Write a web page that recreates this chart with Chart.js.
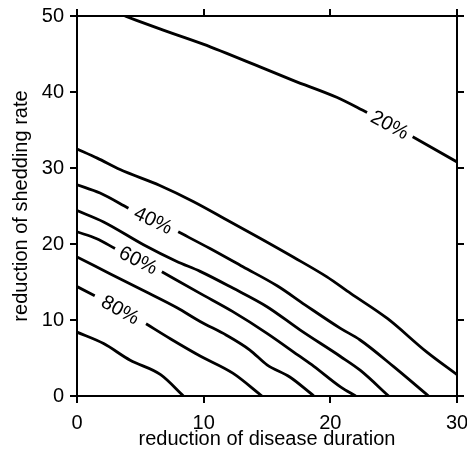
<!DOCTYPE html>
<html>
<head>
    <meta charset="utf-8">
    <title>contour</title>
    <script src="https://cdn.jsdelivr.net/npm/chart.js"></script>
    <style>
        body {
            margin: 0;
            background-color: #ffffff;
        }
        #wrap {
            width: 467px;
            height: 456px;
        }
    </style>
</head>
<body>
    <div id="wrap">
        <canvas id="myChart" width="467" height="456"></canvas>
    </div>
    <script>
        // contour levels, each line is a list of [x, y] points
        // a null marks the gap where the level label sits
        var levels = ['20%', '30%', '40%', '50%', '60%', '70%', '80%', '90%'];

        var line20 = [[3.78, 50], [6.54, 48.3], [9.96, 46.3], [14.45, 43.3], [17.1, 41.5], [20.5, 39.3], [22.9, 37.3], null, [26.5, 34.1], [30, 30.8]];
        var line30 = [[0, 32.5], [1.6, 31.3], [3.4, 29.8], [6.54, 27.7], [9.17, 25.6], [11.8, 23.2], [14.45, 20.75], [17.1, 18.25], [19.7, 15.7], [21.6, 13.5], [24.5, 10.2], [27.6, 5.8], [30, 2.8]];
        var line40 = [[0, 27.8], [1.82, 26.7], [4.06, 24.7], null, [7.99, 21.6], [10.5, 19.4], [13.1, 17.0], [15.8, 14.5], [18.0, 12.0], [20.8, 8.9], [22.35, 7.37], [25, 3.86], [27.75, 0]];
        var line50 = [[0, 24.4], [2.1, 22.9], [5.25, 19.9], [7.88, 17.7], [9.72, 16.4], [12.3, 14.2], [15.0, 11.75], [17.6, 8.7], [20.8, 5.2], [22.35, 3.4], [24.6, 0]];
        var line60 = [[0, 21.6], [1.56, 20.7], [3.0, 19.4], null, [6.7, 16.35], [9.72, 13.5], [12.3, 11.1], [15.0, 8.25], [17.6, 5.2], [18.7, 3.9], [20.8, 1.2], [22, 0]];
        var line70 = [[0, 18.3], [2.6, 16.1], [5.2, 13.9], [7.9, 11.6], [9.72, 9.8], [11.8, 8.0], [13.65, 6.05], [15.0, 4.1], [16.8, 2.5], [18.7, 0]];
        var line80 = [[0, 14.4], [1.4, 13.2], null, [5.45, 9.5], [7.4, 7.5], [9.72, 5.26], [12.3, 3.0], [14.6, 0]];
        var line90 = [[0, 8.4], [2.1, 6.9], [4.2, 4.7], [6.6, 2.8], [8.4, 0]];

        var allLines = [line20, line30, line40, line50, line60, line70, line80, line90];

        var xTicks = [0, 10, 20, 30];
        var yTicks = [0, 10, 20, 30, 40, 50];

        var fontFamily = '"Liberation Sans", Arial, Helvetica, sans-serif';

        function toPoints(line) {
            return line.map(function (p) {
                return p ? { x: p[0], y: p[1] } : { x: null, y: null };
            });
        }

        // write the level text into the gap of a line, turned along it
        var contourLabels = {
            id: 'contourLabels',
            afterDatasetsDraw: function (chart) {
                var ctx = chart.ctx;
                var xs = chart.scales.x, ys = chart.scales.y;
                allLines.forEach(function (line, i) {
                    var k = line.indexOf(null);
                    if (k < 0) return;
                    var a = line[k - 1], b = line[k + 1];
                    var ax = xs.getPixelForValue(a[0]), ay = ys.getPixelForValue(a[1]);
                    var bx = xs.getPixelForValue(b[0]), by = ys.getPixelForValue(b[1]);
                    ctx.save();
                    ctx.translate((ax + bx) / 2, (ay + by) / 2);
                    ctx.rotate(Math.atan2(by - ay, bx - ax));
                    ctx.font = '20px ' + fontFamily;
                    ctx.fillStyle = '#000';
                    ctx.textAlign = 'center';
                    ctx.textBaseline = 'middle';
                    ctx.fillText(levels[i], 0, 1);
                    ctx.restore();
                });
            }
        };

        function fixSize(size, horizontal) {
            return function (scale) {
                if (horizontal) scale.height = size; else scale.width = size;
                scale.paddingLeft = 0;
                scale.paddingRight = 0;
                scale.paddingTop = 0;
                scale.paddingBottom = 0;
            };
        }

        function tickValues(list) {
            return function (scale) {
                scale.ticks = list.map(function (v) { return { value: v }; });
            };
        }

        var gridOpts = {
            drawOnChartArea: false,
            drawTicks: true,
            tickLength: 7,
            color: '#000',
            lineWidth: 2
        };
        var borderOpts = { color: '#000', width: 2 };
        var tickFont = { family: fontFamily, size: 20 };

        var ctx = document.getElementById('myChart').getContext('2d');
        var chart = new Chart(ctx, {
            type: 'scatter',
            data: {
                datasets: allLines.map(function (line, i) {
                    return {
                        label: levels[i],
                        data: toPoints(line),
                        showLine: true,
                        spanGaps: false,
                        borderColor: '#000',
                        borderWidth: 2.8,
                        pointRadius: 0,
                        pointHoverRadius: 0,
                        cubicInterpolationMode: 'monotone',
                        fill: false
                    };
                })
            },
            options: {
                responsive: false,
                animation: false,
                events: [],
                layout: { padding: 0 },
                plugins: {
                    legend: { display: false },
                    tooltip: { enabled: false }
                },
                scales: {
                    x: {
                        type: 'linear', position: 'bottom', min: 0, max: 30,
                        afterBuildTicks: tickValues(xTicks),
                        afterFit: fixSize(60, true),
                        ticks: { color: '#000', font: tickFont, padding: 8, maxRotation: 0 },
                        grid: gridOpts, border: borderOpts,
                        title: {
                            display: true, text: 'reduction of disease duration', color: '#000',
                            font: { family: fontFamily, size: 20 }, padding: { top: 0, bottom: 5 }
                        }
                    },
                    x2: {
                        type: 'linear', position: 'top', min: 0, max: 30,
                        afterBuildTicks: tickValues(xTicks),
                        afterFit: fixSize(16, true),
                        ticks: { display: false },
                        grid: gridOpts, border: borderOpts
                    },
                    y: {
                        type: 'linear', position: 'left', min: 0, max: 50,
                        afterBuildTicks: tickValues(yTicks),
                        afterFit: fixSize(77, false),
                        ticks: { color: '#000', font: tickFont, padding: 6 },
                        grid: gridOpts, border: borderOpts,
                        title: {
                            display: true, text: 'reduction of shedding rate', color: '#000',
                            font: { family: fontFamily, size: 20 }, padding: { top: 9, bottom: 0 }
                        }
                    },
                    y2: {
                        type: 'linear', position: 'right', min: 0, max: 50,
                        afterBuildTicks: tickValues(yTicks),
                        afterFit: fixSize(10, false),
                        ticks: { display: false },
                        grid: gridOpts, border: borderOpts
                    }
                }
            },
            plugins: [contourLabels]
        });
    </script>
</body>
</html>
